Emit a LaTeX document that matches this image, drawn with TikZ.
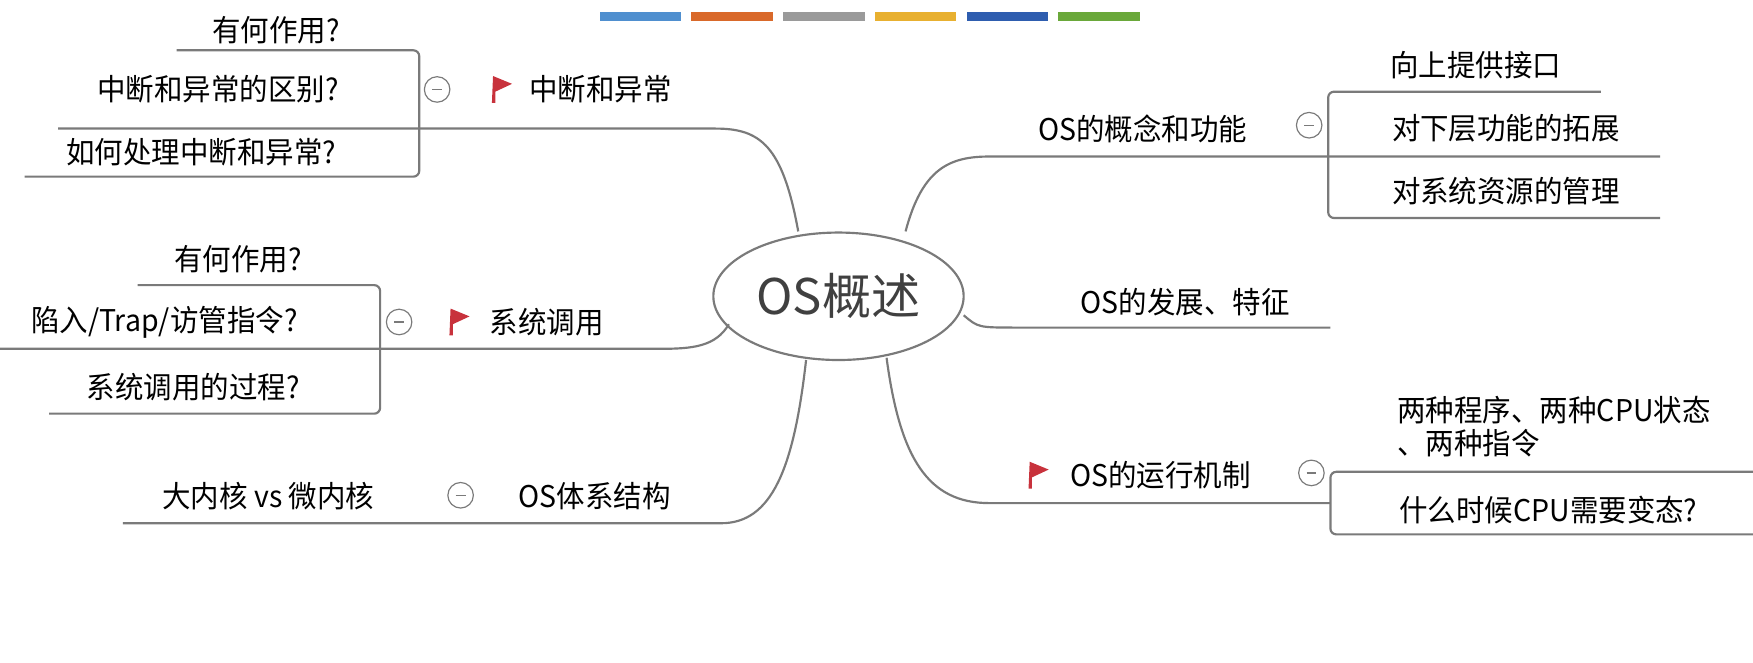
\documentclass[tikz,border=0pt]{standalone}
\usepackage{fontspec}
\setmainfont{Noto Sans CJK SC}
\usetikzlibrary{positioning,shapes.geometric}

\definecolor{linegray}{HTML}{7A7A7A}
\definecolor{flagred}{HTML}{C8323C}
\definecolor{bar1}{HTML}{4F8FCF}
\definecolor{bar2}{HTML}{D9692A}
\definecolor{bar3}{HTML}{9A9A9A}
\definecolor{bar4}{HTML}{E8B030}
\definecolor{bar5}{HTML}{2E5DAF}
\definecolor{bar6}{HTML}{6AA83A}

\begin{document}
\begin{tikzpicture}[x=0.02cm, y=-0.02cm,
  branch/.style={draw=linegray, line width=1.1pt},
  bracket/.style={branch, rounded corners=3pt},
  topic/.style={font=\fontsize{14.5}{16}\selectfont, inner sep=1pt, yscale=1.05},
  fold/.style={circle, draw=linegray, line width=0.6pt, minimum size=13pt, inner sep=0pt,
    path picture={\draw[linegray, line width=0.6pt] ([xshift=-2.5pt]path picture bounding box.center) -- ([xshift=2.5pt]path picture bounding box.center);}},
  bar/.style={minimum width=73*0.02cm, minimum height=8*0.02cm, inner sep=0pt}
]
  \useasboundingbox (0,0) rectangle (1568,593);

  % colour bars
  \foreach \i in {1,...,6}
    \node[bar, fill=bar\i] (bar\i) at (573+82*\i-82,15) {};

  % centre
  \node[ellipse, draw=linegray, line width=1.1pt, minimum width=216*0.02cm, minimum height=114*0.02cm,
    font=\fontsize{25}{28}\selectfont, text=black!75] (root) at (750,265) {OS概述};

  % interrupts
  \node[topic] (irq) at (537,80) {中断和异常};
  \fill[flagred] (441,68) -- (458,75) -- (443,82) -- (443,92) -- (440,92) -- cycle;
  \node[fold] (irqf) at (391,80) {};
  \node[topic] (irq1) at (247,27) {有何作用?};
  \node[topic] (irq2) at (195,80) {中断和异常的区别?};
  \node[topic] (irq3) at (180,136) {如何处理中断和异常?};
  \coordinate (irqe) at (714,207);
  \draw[branch] (irqe) .. controls (700,130) and (680,115) .. (640,115) -- (52,115);
  \draw[bracket] (158,45) -- (375,45) -- (375,158) -- (22,158);

  % concept
  \node[topic] (con) at (1022,115) {OS的概念和功能};
  \node[fold] (conf) at (1171,112) {};
  \node[topic] (con1) at (1320,58) {向上提供接口};
  \node[topic] (con2) at (1347,115) {对下层功能的拓展};
  \node[topic] (con3) at (1347,171) {对系统资源的管理};
  \coordinate (cone) at (810,207);
  \draw[branch] (cone) .. controls (825,150) and (850,140) .. (885,140) -- (1485,140);
  \draw[bracket] (1432,82) -- (1188,82) -- (1188,195) -- (1485,195);

  % development
  \node[topic] (dev) at (1060,270) {OS的发展、特征};
  \coordinate (deve) at (862,282);
  \draw[branch] (deve) .. controls (875,293) .. (910,293) -- (1190,293);

  % syscall
  \node[topic] (sys) at (489,288) {系统调用};
  \fill[flagred] (403,276) -- (420,283) -- (405,290) -- (405,300) -- (402,300) -- cycle;
  \node[fold] (sysf) at (357,288) {};
  \node[topic] (sys1) at (213,232) {有何作用?};
  \node[topic] (sys2) at (147,288) {陷入/Trap/访管指令?};
  \node[topic] (sys3) at (173,346) {系统调用的过程?};
  \coordinate (syse) at (652,290);
  \draw[branch] (syse) .. controls (640,310) and (620,312) .. (590,312) -- (0,312);
  \draw[bracket] (123,255) -- (340,255) -- (340,370) -- (44,370);

  % structure
  \node[topic] (arc) at (532,444) {OS体系结构};
  \node[fold] (arcf) at (412,443) {};
  \node[topic] (arc1) at (240,444) {大内核 vs 微内核};
  \coordinate (arce) at (721,322);
  \draw[branch] (arce) .. controls (710,420) and (690,468) .. (645,468) -- (110,468);

  % mechanism
  \node[topic] (run) at (1038,425) {OS的运行机制};
  \fill[flagred] (921,413) -- (938,420) -- (923,427) -- (923,437) -- (920,437) -- cycle;
  \node[fold] (runf) at (1173,423) {};
  \node[topic, align=left] (run1) at (1390,382) {两种程序、两种CPU状态\\、两种指令};
  \node[topic] (run2) at (1385,456) {什么时候CPU需要变态?};
  \coordinate (rune) at (793,320);
  \draw[branch] (rune) .. controls (805,410) and (830,450) .. (885,450) -- (1190,450);
  \draw[bracket] (1568,422) -- (1190,422) -- (1190,478) -- (1568,478);
\end{tikzpicture}
\end{document}
